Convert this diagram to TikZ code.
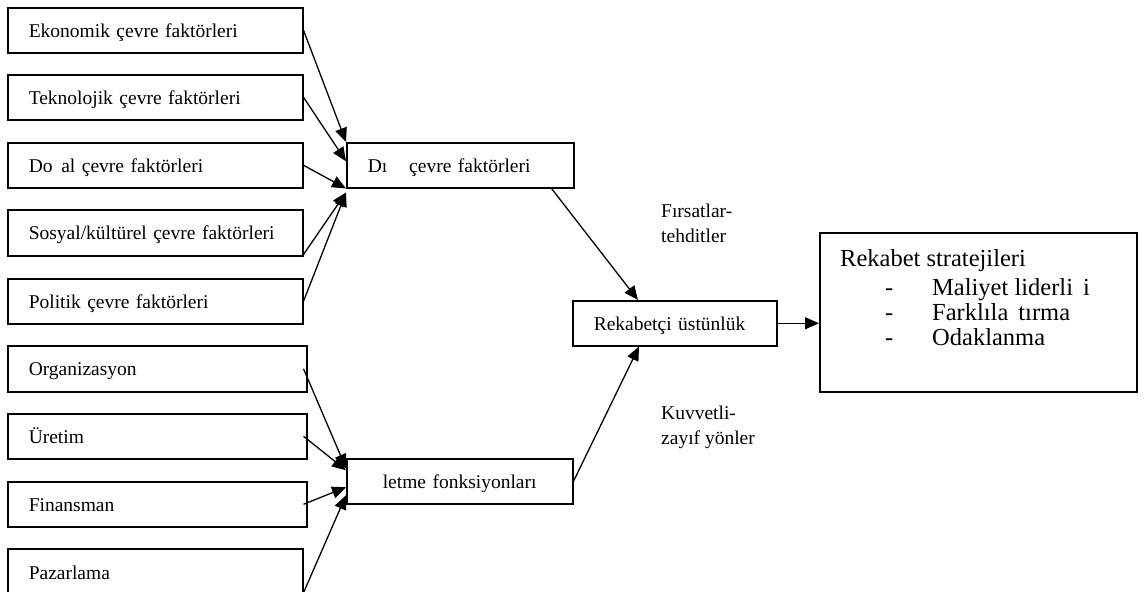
\documentclass[tikz,border=0pt]{standalone}
\usepackage{fontspec}
\setmainfont{Liberation Serif}
\usetikzlibrary{arrows.meta}
\begin{document}
\begin{tikzpicture}[x=1pt,y=-1pt,
  box/.style={draw, line width=1.5pt, anchor=north west, align=left,
    inner ysep=0pt, text height=14pt, text depth=0pt,
    font=\fontsize{19.5}{23}\selectfont},
  factor/.style={box, minimum height=45pt, inner xsep=21pt, text width=253pt},
  func/.style={box, minimum height=45pt, inner xsep=21pt, text width=257pt},
  mid/.style={box, minimum height=45pt},
  arr/.style={-{Triangle[length=14pt,width=12pt]}, line width=1.3pt},
  lbl/.style={anchor=base west, inner sep=0pt, font=\fontsize{19.5}{23}\selectfont},
  big/.style={anchor=base west, inner sep=0pt, font=\fontsize{24.5}{28}\selectfont}]
\useasboundingbox (0,0) rectangle (1144,592);

% environmental factors
\node[factor] (eko) at (7,7)   {Ekonomik çevre faktörleri};
\node[factor] (tek) at (7,74)  {Teknolojik çevre faktörleri};
\node[factor] (dog) at (7,142) {Do\hspace{0.45em}al çevre faktörleri};
\node[factor, minimum height=46pt] (sos) at (7,209) {Sosyal/kültürel çevre faktörleri};
\node[factor] (pol) at (7,278) {Politik çevre faktörleri};

% business functions
\node[func, minimum height=46pt] (org) at (7,345) {Organizasyon};
\node[func] (ure) at (7,413) {Üretim};
\node[func] (fin) at (7,481) {Finansman};
\node[factor, minimum height=48pt] (paz) at (7,548) {Pazarlama};

% middle column
\node[mid, inner xsep=21pt, text width=185pt] (dis) at (346,142) {Dı\hspace{22pt}çevre faktörleri};
\node[mid, inner xsep=36pt, text width=154pt] (isl) at (346,458) {letme fonksiyonları};
\node[mid, inner xsep=21pt, text width=162pt] (rek) at (572,300) {Rekabetçi üstünlük};

% strategies box
\node[draw, line width=1.5pt, anchor=north west, minimum width=317pt,
  minimum height=159pt, inner sep=0pt] (str) at (819,232) {};
\node[big] (strt) at (840,266) {Rekabet stratejileri};
\node[big] (d1) at (885,295) {-};
\node[big] (d2) at (885,320) {-};
\node[big] (d3) at (885,345) {-};
\node[big] (s1) at (932,295) {Maliyet liderli\hspace{10pt}i};
\node[big] (s2) at (932,320) {Farklıla\hspace{10pt}tırma};
\node[big] (s3) at (932,345) {Odaklanma};

% side labels
\node[lbl] (fir) at (661,217) {Fırsatlar-};
\node[lbl] (teh) at (661,242) {tehditler};
\node[lbl] (kuv) at (661,419) {Kuvvetli-};
\node[lbl] (zay) at (661,444) {zayıf yönler};

% arrows into the external factors box
\draw[arr] (eko.east) -- (dis.north west);
\draw[arr] (tek.east) -- ([yshift=4pt]dis.west);
\draw[arr] (dog.east) -- (dis.south west);
\draw[arr] ([yshift=2pt]sos.south east) -- ([yshift=-4pt]dis.south west);
\draw[arr] (pol.east) -- ([yshift=-4pt]dis.south west);

% arrows into the business functions box
\draw[arr] ([xshift=-4pt]org.east) -- ([yshift=13pt]isl.west);
\draw[arr] ([xshift=-4pt]ure.east) -- ([yshift=11pt]isl.west);
\draw[arr] ([xshift=-4pt]fin.east) -- ([yshift=-6pt]isl.west);
\draw[arr] ([yshift=-20pt]paz.east) -- ([yshift=-14pt]isl.west);

% arrows towards competitive advantage and strategies
\draw[arr] ([xshift=-23pt]dis.south east) -- ([xshift=66pt]rek.north west);
\draw[arr] (isl.east) -- ([xshift=67pt]rek.south west);
\draw[arr] (rek.east) -- (rek.east -| str.west);
\end{tikzpicture}
\end{document}
